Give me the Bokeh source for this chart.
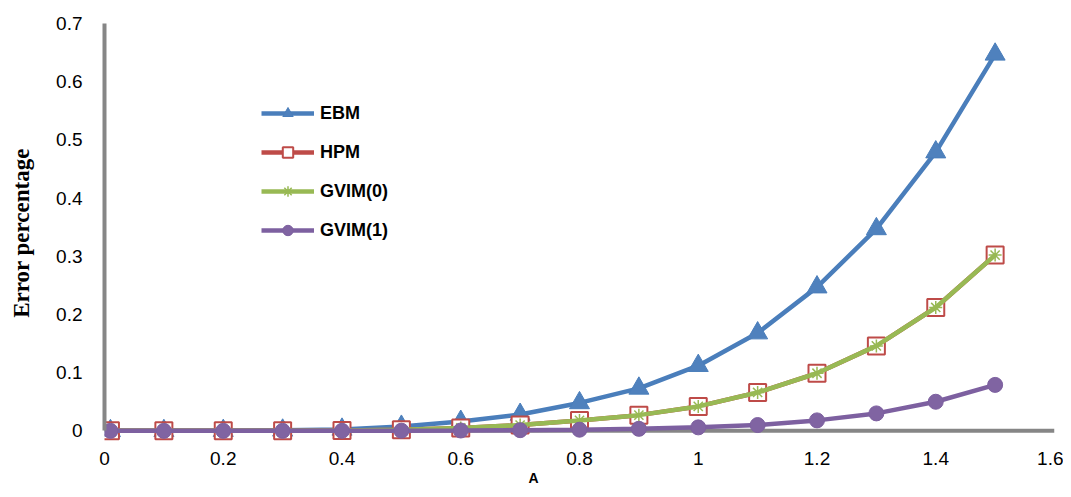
from bokeh.plotting import figure
from bokeh.models import Legend, LegendItem, Span, Title, FixedTicker
from bokeh.embed import file_html
from bokeh.resources import INLINE

# ---- data ----
A = [0.01, 0.1, 0.2, 0.3, 0.4, 0.5, 0.6, 0.7, 0.8, 0.9, 1.0, 1.1, 1.2, 1.3, 1.4, 1.5]
EBM = [0, 0.0001, 0.0003, 0.0009, 0.0025, 0.0075, 0.016, 0.028, 0.048, 0.073,
       0.112, 0.168, 0.247, 0.347, 0.479, 0.647]
HPM = [0, 0, 0.0001, 0.0003, 0.0008, 0.002, 0.005, 0.010, 0.018, 0.027,
       0.042, 0.066, 0.099, 0.146, 0.212, 0.302]
GVIM0 = [0, 0, 0.0001, 0.0003, 0.0008, 0.002, 0.005, 0.010, 0.018, 0.027,
         0.042, 0.066, 0.099, 0.146, 0.212, 0.302]
GVIM1 = [0, 0, 0, 0, 0.0001, 0.0003, 0.0006, 0.0012, 0.002, 0.0035,
         0.006, 0.010, 0.018, 0.030, 0.050, 0.079]
series_names = ["EBM", "HPM", "GVIM(0)", "GVIM(1)"]
x_ticks = [0, 0.2, 0.4, 0.6, 0.8, 1.0, 1.2, 1.4, 1.6]
y_ticks = [0, 0.1, 0.2, 0.3, 0.4, 0.5, 0.6, 0.7]
x_title = "A"
y_title = "Error percentage"

BLUE = "#4A7EBB"
RED = "#BE4B48"
GREEN = "#98B954"
PURPLE = "#7D60A0"
AXIS = "#868686"

p = figure(width=1063, height=489, output_backend="svg", toolbar_location=None,
           x_range=(0, 1.6), y_range=(-0.02, 0.7),
           min_border_left=104, min_border_right=9, min_border_top=23,
           min_border_bottom=47)
p.title.text = ""
p.outline_line_color = None
p.grid.visible = False
p.background_fill_color = "white"

# axes
p.xaxis.ticker = FixedTicker(ticks=x_ticks)
p.yaxis.ticker = FixedTicker(ticks=y_ticks)
for ax in (p.xaxis[0], p.yaxis[0]):
    ax.major_tick_line_color = None
    ax.minor_tick_line_color = None
    ax.major_tick_out = 0
    ax.major_tick_in = 0
    ax.major_label_text_font = "Liberation Sans"
    ax.major_label_text_font_size = "19px"
    ax.major_label_text_color = "black"
p.xaxis.axis_line_color = None
p.xaxis.major_label_standoff = 9
p.yaxis.axis_line_color = AXIS
p.yaxis.axis_line_width = 4
p.yaxis.bounds = (0, 0.7)
p.yaxis.major_label_standoff = 22
p.yaxis.axis_label = y_title
p.yaxis.axis_label_text_font = "Liberation Serif"
p.yaxis.axis_label_text_font_style = "bold"
p.yaxis.axis_label_text_font_size = "23px"
p.yaxis.axis_label_text_color = "black"
p.yaxis.axis_label_standoff = 19

p.add_layout(Span(location=0, dimension="width", line_color=AXIS, line_width=4,
                  level="underlay"))

# series
l1 = p.line(A, EBM, line_color=BLUE, line_width=4.5)
m1 = p.scatter(A, EBM, marker="triangle", size=20, fill_color="#4F81BD",
               line_color=BLUE, line_width=1)
l2 = p.line(A, HPM, line_color=RED, line_width=4.5)
m2 = p.scatter(A, HPM, marker="square", size=17, fill_color="white",
               line_color=RED, line_width=2)
l3 = p.line(A, GVIM0, line_color=GREEN, line_width=4.5)
m3 = p.scatter(A, GVIM0, marker="asterisk", size=13, line_color=GREEN,
               line_width=1.5)
l4 = p.line(A, GVIM1, line_color=PURPLE, line_width=4.5)
m4 = p.scatter(A, GVIM1, marker="circle", size=15, fill_color="#8064A2",
               line_color=PURPLE, line_width=1)

legend = Legend(items=[
    LegendItem(label=series_names[0], renderers=[l1, m1]),
    LegendItem(label=series_names[1], renderers=[l2, m2]),
    LegendItem(label=series_names[2], renderers=[l3, m3]),
    LegendItem(label=series_names[3], renderers=[l4, m4]),
], location=(157, 199))
legend.border_line_color = None
legend.background_fill_alpha = 0
legend.padding = 0
legend.margin = 0
legend.spacing = 13
legend.glyph_width = 53
legend.glyph_height = 26
legend.label_height = 26
legend.label_standoff = 6
legend.label_text_font = "Liberation Sans"
legend.label_text_font_style = "bold"
legend.label_text_font_size = "18px"
legend.label_text_color = "black"
p.add_layout(legend)

xt = Title(text=x_title, align="left", offset=424, standoff=0,
           text_font="Liberation Sans", text_font_style="bold",
           text_font_size="14px", text_color="black")
p.add_layout(xt, "below")

open("out.html", "w").write(file_html(p, INLINE))
